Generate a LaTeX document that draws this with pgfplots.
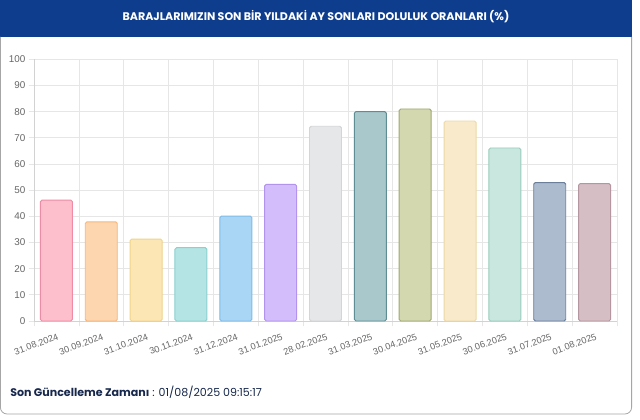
\documentclass[border=0pt]{standalone}
\usepackage{pgfplots}
\pgfplotsset{compat=1.18}
\usepackage{fontspec}
\setmainfont{Liberation Sans}
\newfontfamily\pop{Poppins}
\definecolor{navy}{HTML}{0E3D8E}
\definecolor{footc}{HTML}{17284C}
\definecolor{tickc}{HTML}{666666}
\definecolor{gridc}{HTML}{E6E6E6}
\definecolor{f1}{HTML}{FDBFCC}\definecolor{b1}{HTML}{F08BA5}
\definecolor{f2}{HTML}{FDD5AE}\definecolor{b2}{HTML}{F5B77E}
\definecolor{f3}{HTML}{FCE7B4}\definecolor{b3}{HTML}{F0D38A}
\definecolor{f4}{HTML}{B4E5E4}\definecolor{b4}{HTML}{8BCFCF}
\definecolor{f5}{HTML}{A9D6F5}\definecolor{b5}{HTML}{7DBBE8}
\definecolor{f6}{HTML}{D3BEFB}\definecolor{b6}{HTML}{B293EE}
\definecolor{f7}{HTML}{E6E7E8}\definecolor{b7}{HTML}{D4D5D7}
\definecolor{f8}{HTML}{A9C8CC}\definecolor{b8}{HTML}{5E8E94}
\definecolor{f9}{HTML}{D3D8AF}\definecolor{b9}{HTML}{A0A873}
\definecolor{f10}{HTML}{F8EACA}\definecolor{b10}{HTML}{EDD9A8}
\definecolor{f11}{HTML}{C9E6DF}\definecolor{b11}{HTML}{99CDBE}
\definecolor{f12}{HTML}{ADBBCF}\definecolor{b12}{HTML}{6B7E9A}
\definecolor{f13}{HTML}{D6BEC5}\definecolor{b13}{HTML}{B595A0}
\begin{document}
\begin{tikzpicture}
\begin{scope}[x=0.75pt,y=0.75pt]
\fill[white] (0,0) rectangle (640,420);
\fill[navy] (0,383) rectangle (632,420);
\draw[gray!70, line width=0.6pt, rounded corners=5] (0.4,383) -- (0.4,6) -- (631.6,6) -- (631.6,383);
\node[white, font=\pop\bfseries\fontsize{8.3}{10}\selectfont] at (316,403) {BARAJLARIMIZIN SON BİR YILDAKİ AY SONLARI DOLULUK ORANLARI (\%)};
\node[anchor=base west, text=footc, font=\pop\fontsize{8.3}{10}\selectfont, inner sep=0pt] at (10,23) {{\bfseries Son Güncelleme Zamanı} : 01/08/2025 09:15:17};
\end{scope}
\begin{axis}[
  at={(25.5pt,74.25pt)}, anchor=south west,
  scale only axis, width=437.25pt, height=196.3pt,
  xmin=-0.5, xmax=12.5, ymin=0, ymax=100,
  axis x line*=bottom, axis y line*=left,
  axis line style={draw=gray!35, line width=0.6pt},
  ytick={0,10,...,100},
  xtick={0,...,12},
  minor xtick={-0.5,0.5,...,12.5},
  xticklabels={31.08.2024,30.09.2024,31.10.2024,30.11.2024,31.12.2024,31.01.2025,28.02.2025,31.03.2025,30.04.2025,31.05.2025,30.06.2025,31.07.2025,01.08.2025},
  x tick label style={rotate=20, anchor=north east, xshift=2pt, yshift=-1.5pt, font=\fontsize{6.9}{8}\selectfont, text=tickc},
  y tick label style={font=\fontsize{7.4}{9}\selectfont, text=tickc, xshift=1pt},
  /pgf/number format/assume math mode=true,
  ymajorgrids, xminorgrids,
  grid style={draw=gridc, line width=0.5pt},
  tick align=outside, major tick length=4pt, minor tick length=4pt,
  xtick style={draw=none},
  ytick style={draw=gridc, line width=0.5pt},
  minor x tick style={draw=gridc, line width=0.5pt},
  ybar, bar width=24pt, bar shift=0pt,
  every axis plot/.append style={line width=0.7pt, rounded corners=1.2pt},
  clip=false,
]
\addplot[fill=f1, draw=b1] coordinates {(0,46.2)};
\addplot[fill=f2, draw=b2] coordinates {(1,37.9)};
\addplot[fill=f3, draw=b3] coordinates {(2,31.3)};
\addplot[fill=f4, draw=b4] coordinates {(3,28.0)};
\addplot[fill=f5, draw=b5] coordinates {(4,40.1)};
\addplot[fill=f6, draw=b6] coordinates {(5,52.2)};
\addplot[fill=f7, draw=b7] coordinates {(6,74.4)};
\addplot[fill=f8, draw=b8] coordinates {(7,80.0)};
\addplot[fill=f9, draw=b9] coordinates {(8,81.0)};
\addplot[fill=f10, draw=b10] coordinates {(9,76.4)};
\addplot[fill=f11, draw=b11] coordinates {(10,66.1)};
\addplot[fill=f12, draw=b12] coordinates {(11,52.9)};
\addplot[fill=f13, draw=b13] coordinates {(12,52.5)};
\end{axis}
\end{tikzpicture}
\end{document}
